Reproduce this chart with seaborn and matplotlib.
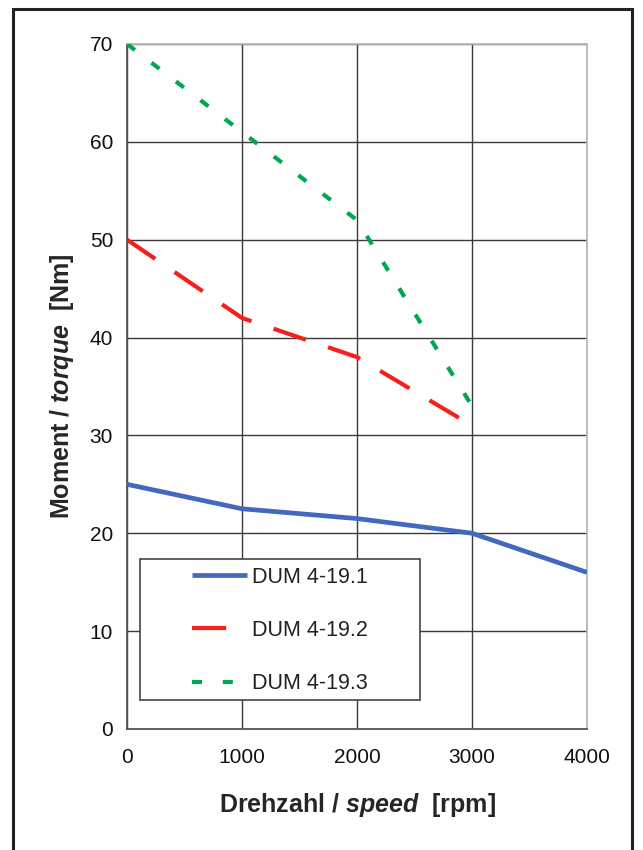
# torque / speed curves of the DUM 4-19 motors
import pandas as pd
import seaborn as sns
import matplotlib.pyplot as plt
from matplotlib.patches import Rectangle

# data
speed_1 = [0, 1000, 2000, 3000, 4000]
torque_1 = [25, 22.5, 21.5, 20, 16]
speed_2 = [0, 1000, 2000, 3000]
torque_2 = [50, 42, 38, 31]
speed_3 = [0, 1000, 2000, 3000]
torque_3 = [70, 61, 52, 33]
names = ["DUM 4-19.1", "DUM 4-19.2", "DUM 4-19.3"]
x_ticks = [0, 1000, 2000, 3000, 4000]
y_ticks = [0, 10, 20, 30, 40, 50, 60, 70]

sns.set_style("white")
plt.rcParams['font.family'] = ['Liberation Sans', 'DejaVu Sans']
plt.rcParams['mathtext.fontset'] = 'custom'
plt.rcParams['mathtext.rm'] = 'Liberation Sans'
plt.rcParams['mathtext.bf'] = 'Liberation Sans:bold'
plt.rcParams['mathtext.it'] = 'Liberation Sans:italic'
plt.rcParams['mathtext.bfit'] = 'Liberation Sans:bold:italic'

fig = plt.figure(figsize=(6.43, 8.5), dpi=100)
ax = fig.add_axes([0.1975, 0.1424, 0.7154, 0.8059])

df1 = pd.DataFrame({"speed": speed_1, "torque": torque_1})
df2 = pd.DataFrame({"speed": speed_2, "torque": torque_2})
df3 = pd.DataFrame({"speed": speed_3, "torque": torque_3})

sns.lineplot(data=df1, x="speed", y="torque", ax=ax, color="#4468c0",
             lw=3.4, label=names[0], zorder=3)
sns.lineplot(data=df2, x="speed", y="torque", ax=ax, color="#f5201c",
             lw=3.0, label=names[1], zorder=3)
sns.lineplot(data=df3, x="speed", y="torque", ax=ax, color="#00a650",
             lw=3.0, label=names[2], zorder=3)
lines = ax.get_lines()
lines[1].set_dashes([8.2, 5.6])
lines[2].set_dashes([2.4, 5.0])
for ln in lines:
    ln.set_solid_capstyle("butt")
    ln.set_dash_capstyle("butt")

ax.set_xlim(0, 4000)
ax.set_ylim(0, 70)
ax.set_xticks(x_ticks)
ax.set_yticks(y_ticks)
ax.tick_params(axis="both", direction="out", length=5, width=1, color="#444",
               labelsize=15, pad=5, labelcolor="#111")
ax.tick_params(axis="x", pad=9)
ax.grid(True, color="#3a3a3a", lw=1)
for side in ["left", "bottom"]:
    ax.spines[side].set_color("#555")
for side in ["top", "right"]:
    ax.spines[side].set_color("#b8b8b8")
for sp in ax.spines.values():
    sp.set_linewidth(1.3)
    sp.set_zorder(2.5)

ax.set_xlabel(r"$\mathbf{Drehzahl\ /\ }\mathbfit{speed}\mathbf{\ \ [rpm]}$",
              fontsize=18, labelpad=17)
ax.set_ylabel(r"$\mathbf{Moment\ /\ }\mathbfit{torque}\mathbf{\ \ [Nm]}$",
              fontsize=18, labelpad=10)

# legend box drawn separately, entries placed inside it
ax.add_patch(Rectangle((0.028, 0.042), 0.609, 0.206, transform=ax.transAxes,
                       facecolor="white", edgecolor="#444", lw=1.2, zorder=4))
leg = ax.legend(loc="center left", bbox_to_anchor=(0.141, 0.144),
                borderaxespad=0, borderpad=0, fontsize=15.5, handlelength=2.56,
                handletextpad=0.25, labelspacing=1.5, frameon=False)
leg.set_zorder(5)
for t in leg.get_texts():
    t.set_color("#222")

# outer frame of the figure
fig.patches.append(Rectangle((13 / 643, -0.05), 619 / 643, 1.05 - 9 / 850,
                             transform=fig.transFigure, fill=False,
                             edgecolor="#222", lw=2.2))

fig.savefig("out.png", dpi=100)
